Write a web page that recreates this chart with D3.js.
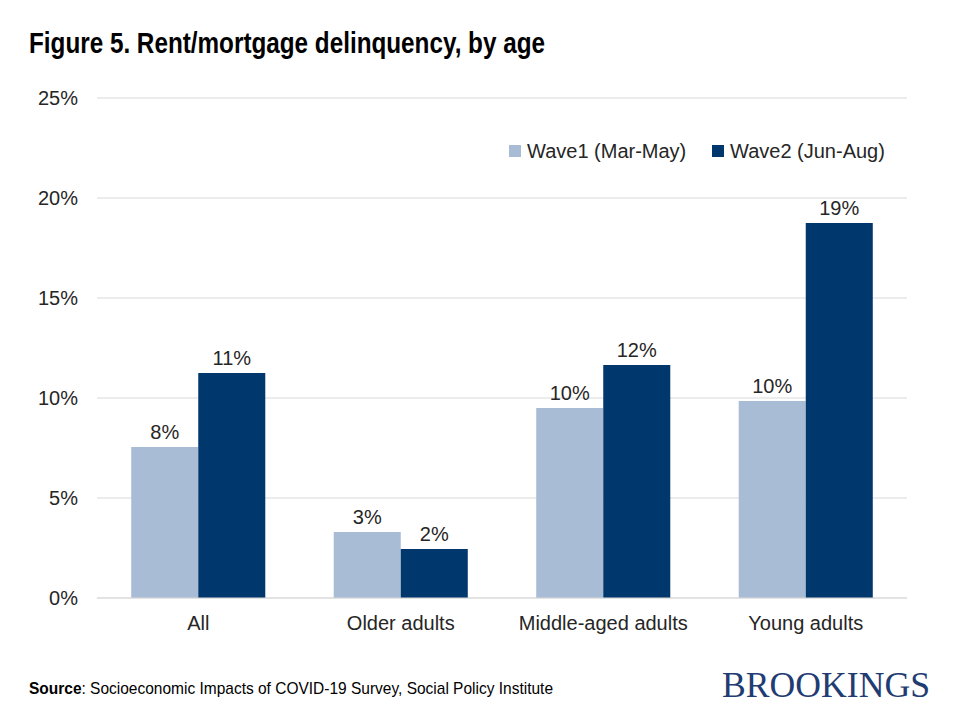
<!DOCTYPE html>
<html>
<head>
<meta charset="utf-8">
<script src="https://cdn.jsdelivr.net/npm/d3@7"></script>
<style>
  body { margin: 0; background: #fff; }
</style>
</head>
<body>
<div id="chart"></div>
<script>
// data
var categories = ["All", "Older adults", "Middle-aged adults", "Young adults"];
var seriesNames = ["Wave1 (Mar-May)", "Wave2 (Jun-Aug)"];
var wave1 = [7.55, 3.3, 9.5, 9.85];
var wave2 = [11.25, 2.45, 11.65, 18.75];
var yTicks = [0, 5, 10, 15, 20, 25];
var colors = ["#a9bcd6", "#00386e"];

var width = 960, height = 720;
var sans = "'Liberation Sans', Arial, sans-serif";
var textColor = "#262626";

var svg = d3.select("#chart").append("svg")
    .attr("width", width)
    .attr("height", height)
    .style("font-family", sans);

var x0 = d3.scaleBand().domain(categories).range([97, 907])
    .paddingInner(0.338).paddingOuter(0.169);
var x1 = d3.scaleBand().domain([0, 1]).range([0, x0.bandwidth()]);
var y = d3.scaleLinear().domain([0, 25]).range([598, 98]);

// gridlines
svg.append("g").selectAll("line")
    .data(yTicks).enter().append("line")
    .attr("x1", 97).attr("x2", 907)
    .attr("y1", function(d){ return y(d); })
    .attr("y2", function(d){ return y(d); })
    .attr("stroke", "#d9d9d9")
    .attr("stroke-width", 1);

// y axis labels
var yAxis = svg.append("g")
    .attr("transform", "translate(97,0)")
    .call(d3.axisLeft(y).tickValues(yTicks).tickSize(0).tickPadding(19)
        .tickFormat(function(d){ return d + "%"; }));
yAxis.select(".domain").remove();
yAxis.selectAll("text").style("font-size", "20px").style("font-family", sans)
    .attr("fill", textColor);

// bars
var rows = categories.map(function(c, i){ return {cat: c, vals: [wave1[i], wave2[i]]}; });
var groups = svg.append("g").selectAll("g")
    .data(rows).enter().append("g")
    .attr("transform", function(d){ return "translate(" + x0(d.cat) + ",0)"; });

groups.selectAll("rect")
    .data(function(d){ return d.vals.map(function(v, j){ return {j: j, v: v}; }); })
    .enter().append("rect")
    .attr("x", function(d){ return x1(d.j); })
    .attr("width", x1.bandwidth())
    .attr("y", function(d){ return y(d.v); })
    .attr("height", function(d){ return y(0) - y(d.v); })
    .attr("fill", function(d){ return colors[d.j]; });

groups.selectAll("text")
    .data(function(d){ return d.vals.map(function(v, j){ return {j: j, v: v}; }); })
    .enter().append("text")
    .attr("x", function(d){ return x1(d.j) + x1.bandwidth() / 2; })
    .attr("y", function(d){ return y(d.v) - 8; })
    .attr("text-anchor", "middle")
    .style("font-size", "20px")
    .attr("fill", textColor)
    .text(function(d){ return Math.round(d.v) + "%"; });

// baseline
svg.append("line")
    .attr("x1", 97).attr("x2", 907)
    .attr("y1", y(0)).attr("y2", y(0))
    .attr("stroke", "#d9d9d9");

// category labels
var xAxis = svg.append("g")
    .attr("transform", "translate(0," + y(0) + ")")
    .call(d3.axisBottom(x0).tickSize(0).tickPadding(18));
xAxis.select(".domain").remove();
xAxis.selectAll("text").style("font-size", "20px").style("font-family", sans)
    .attr("fill", textColor);

// legend
var legendX = [509, 712];
var legend = svg.append("g").selectAll("g")
    .data(seriesNames).enter().append("g")
    .attr("transform", function(d, i){ return "translate(" + legendX[i] + ",145)"; });
legend.append("rect").attr("width", 12).attr("height", 12)
    .attr("fill", function(d, i){ return colors[i]; });
legend.append("text").attr("x", 18).attr("y", 13)
    .style("font-size", "20px").attr("fill", textColor)
    .text(function(d){ return d; });

// title (condensed look via textLength)
svg.append("text")
    .attr("x", 29).attr("y", 53)
    .style("font-weight", "bold")
    .style("font-size", "29px")
    .attr("fill", "#000")
    .attr("textLength", 516)
    .attr("lengthAdjust", "spacingAndGlyphs")
    .text("Figure 5. Rent/mortgage delinquency, by age");

// source
var src = svg.append("text")
    .attr("x", 29).attr("y", 694)
    .style("font-size", "17px")
    .attr("fill", "#000")
    .attr("textLength", 524)
    .attr("lengthAdjust", "spacingAndGlyphs");
src.append("tspan").style("font-weight", "bold").text("Source");
src.append("tspan").text(": Socioeconomic Impacts of COVID-19 Survey, Social Policy Institute");

// logo
svg.append("text")
    .attr("x", 722).attr("y", 697)
    .style("font-family", "'Liberation Serif', 'Times New Roman', serif")
    .style("font-size", "36px")
    .attr("fill", "#1f3c73")
    .attr("textLength", 208)
    .attr("lengthAdjust", "spacingAndGlyphs")
    .text("BROOKINGS");
</script>
</body>
</html>
